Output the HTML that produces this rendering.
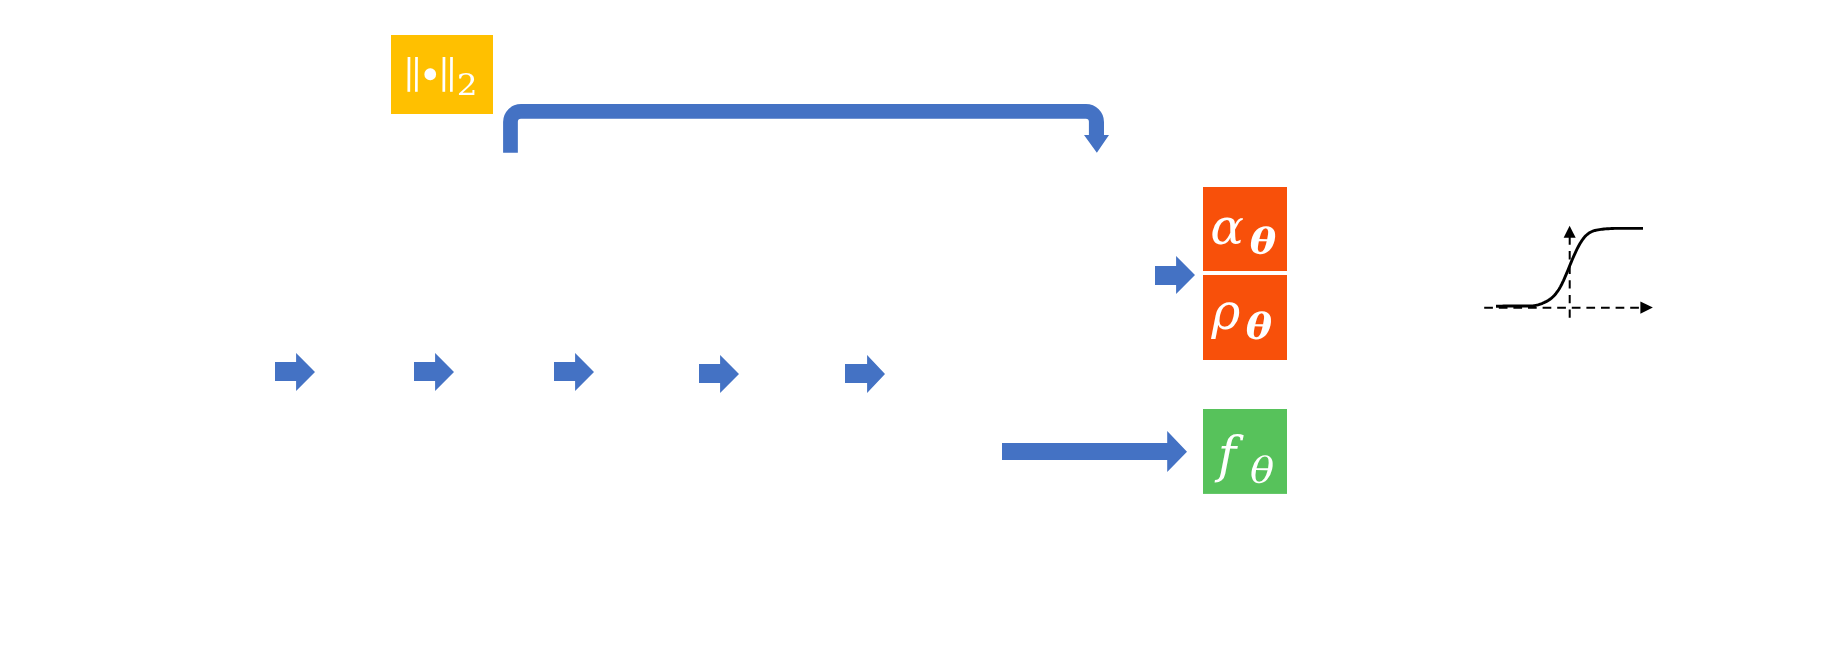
<!DOCTYPE html>
<html lang="en">
<head>
<meta charset="utf-8">
<title>Diagram</title>
<style>
html,body{margin:0;padding:0;background:#fff;}
body{width:1847px;height:664px;position:relative;overflow:hidden;font-family:"Liberation Serif","DejaVu Serif",serif;}
#shapes{position:absolute;left:0;top:0;width:1847px;height:664px;display:block;will-change:transform;}
</style>
</head>
<body>
<svg id="shapes" width="1847" height="664" viewBox="0 0 1847 664">
  <!-- colored boxes -->
  <rect x="391" y="35" width="102" height="79" fill="#FFC000"/>
  <rect x="1203" y="187" width="84" height="84" fill="#F8500A"/>
  <rect x="1203" y="275" width="84" height="85" fill="#F8500A"/>
  <rect x="1203" y="409" width="84" height="84.9" fill="#57C25B"/>
  <!-- bent connector -->
  <path d="M503.1 152.7 V122 A18 18 0 0 1 521.1 104 H1086 A18 18 0 0 1 1104 122 V135 H1109 L1096.85 152.7 L1084 135 H1088.9 V121.85 A3 3 0 0 0 1085.9 118.85 H520.85 A3 3 0 0 0 517.85 121.85 V152.7 Z" fill="#4472C4"/>
  <!-- block arrows -->
  <g fill="#4472C4">
    <path d="M275 362 H296.1 V353 L315 372 L296.1 391 V381 H275 Z"/>
    <path d="M414 362 H435.1 V353 L454 372 L435.1 391 V381 H414 Z"/>
    <path d="M554 362 H575.1 V353 L594 372 L575.1 391 V381 H554 Z"/>
    <path d="M699 364 H720.1 V355 L739 374 L720.1 393 V383 H699 Z"/>
    <path d="M845 364 H867.1 V355 L885 374 L867.1 393 V383 H845 Z"/>
    <path d="M1155 266 H1176.1 V256.1 L1195 275 L1176.1 294 V285 H1155 Z"/>
    <path d="M1002 443 H1167.2 V431 L1187 451.7 L1167.2 472 V460 H1002 Z"/>
  </g>
  <!-- sigmoid plot -->
  <g stroke="#000" fill="none">
    <path d="M1484.2 307.8 H1642" stroke-width="2" stroke-dasharray="8.7 5.9"/>
    <path d="M1569.7 317.8 V236" stroke-width="2" stroke-dasharray="8.3 6.3"/>
    <path id="sig" d="M1496.0 306.30 L1497.5 306.30 L1499.0 306.30 L1500.5 306.18 L1502.0 306.08 L1503.5 306.02 L1505.0 305.99 L1506.5 305.99 L1508.0 305.99 L1509.5 305.99 L1511.0 305.99 L1512.5 305.99 L1514.0 305.99 L1515.5 305.99 L1517.0 305.99 L1518.5 305.99 L1520.0 305.99 L1521.5 305.99 L1523.0 305.99 L1524.5 305.99 L1526.0 305.99 L1527.5 305.99 L1529.0 305.99 L1530.5 305.99 L1532.0 305.97 L1533.5 305.75 L1535.0 305.48 L1536.5 305.16 L1538.0 304.79 L1539.5 304.35 L1541.0 303.85 L1542.5 303.28 L1544.0 302.64 L1545.5 301.93 L1547.0 301.13 L1548.5 300.24 L1550.0 299.23 L1551.5 298.07 L1553.0 296.74 L1554.5 295.21 L1556.0 293.46 L1557.5 291.46 L1559.0 289.19 L1560.5 286.62 L1562.0 283.72 L1563.5 280.54 L1565.0 277.15 L1566.5 273.59 L1568.0 269.94 L1569.5 266.26 L1571.0 262.61 L1572.5 259.04 L1574.0 255.60 L1575.5 252.31 L1577.0 249.19 L1578.5 246.27 L1580.0 243.58 L1581.5 241.14 L1583.0 238.98 L1584.5 237.12 L1586.0 235.54 L1587.5 234.21 L1589.0 233.11 L1590.5 232.22 L1592.0 231.50 L1593.5 230.93 L1595.0 230.48 L1596.5 230.13 L1598.0 229.85 L1599.5 229.62 L1601.0 229.41 L1602.5 229.22 L1604.0 229.06 L1605.5 228.91 L1607.0 228.79 L1608.5 228.68 L1610.0 228.60 L1611.5 228.52 L1613.0 228.46 L1614.5 228.42 L1616.0 228.40 L1617.5 228.40 L1619.0 228.40 L1620.5 228.40 L1622.0 228.40 L1623.5 228.40 L1625.0 228.40 L1626.5 228.40 L1628.0 228.40 L1629.5 228.40 L1631.0 228.40 L1632.5 228.40 L1634.0 228.40 L1635.5 228.40 L1637.0 228.40 L1638.5 228.40 L1640.0 228.40 L1641.5 228.40 L1643.0 228.40" stroke-width="2.9" stroke-linejoin="round"/>
  </g>
  <path d="M1640.4 301.6 L1652.9 307.6 L1640.4 313.8 Z" fill="#000"/>
  <path d="M1563.6 237.8 L1569.6 225.8 L1575.7 237.8 Z" fill="#000"/>
  <!-- labels: real text, positioned glyph by glyph -->
  <text id="n1" transform="translate(404.36 85.83) rotate(0.3) scale(0.9944 1)" font-family="DejaVu Math TeX Gyre,DejaVu Serif,Liberation Serif,serif" font-size="41.19" fill="#fff">‖</text>
  <text id="n2" transform="translate(420.93 85.94) rotate(0.3) scale(0.9792 1)" font-family="DejaVu Math TeX Gyre,DejaVu Serif,Liberation Serif,serif" font-size="42.69" fill="#fff">•</text>
  <text id="n3" transform="translate(439.26 85.83) rotate(0.3) scale(0.9944 1)" font-family="DejaVu Math TeX Gyre,DejaVu Serif,Liberation Serif,serif" font-size="41.19" fill="#fff">‖</text>
  <text id="n4" transform="translate(456.82 95.00) rotate(0.3) scale(1.1001 1)" font-family="DejaVu Math TeX Gyre,DejaVu Serif,Liberation Serif,serif" font-size="29.70" fill="#fff">2</text>
  <text id="a1" transform="translate(1210.32 243.83) rotate(0.3) scale(1.0084 1)" font-family="DejaVu Serif,Liberation Serif,serif" font-size="49.35" font-style="italic" fill="#fff">α</text>
  <text id="a2" transform="translate(1249.63 253.52) rotate(0.3) scale(1.1128 1)" font-family="DejaVu Serif,Liberation Serif,serif" font-size="35.56" font-style="italic" font-weight="bold" fill="#fff">θ</text>
  <text id="r1" transform="translate(1211.58 328.79) rotate(0.3) scale(0.9816 1)" font-family="DejaVu Serif,Liberation Serif,serif" font-size="49.78" font-style="italic" fill="#fff">ρ</text>
  <text id="r2" transform="translate(1245.70 338.70) rotate(0.3) scale(1.0990 1)" font-family="DejaVu Serif,Liberation Serif,serif" font-size="35.80" font-style="italic" font-weight="bold" fill="#fff">θ</text>
  <text id="f1" transform="translate(1217.87 472.01) rotate(0.3) scale(0.9881 1)" font-family="DejaVu Serif,Liberation Serif,serif" font-size="50.22" font-style="italic" fill="#fff">f</text>
  <text id="f2" transform="translate(1250.09 482.73) rotate(0.3) scale(1.1131 1)" font-family="DejaVu Serif,Liberation Serif,serif" font-size="35.89" font-style="italic" fill="#fff">θ</text>
</svg>

</body>
</html>
